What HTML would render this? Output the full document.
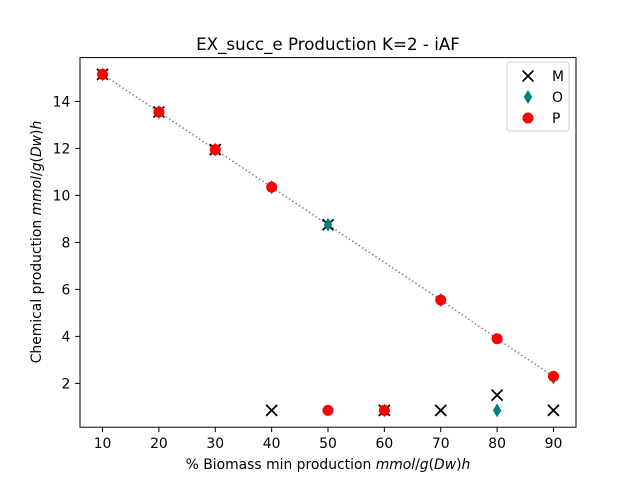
<!DOCTYPE html>
<html><head><meta charset="utf-8"><style>body{margin:0;background:#fff}svg{display:block;font-family:"DejaVu Sans","Liberation Sans",sans-serif}</style></head>
<body>
<svg id="c" width="640" height="480"></svg>
<script>
const xCats=[10,20,30,40,50,60,70,80,90];
const mVals=[15.15,13.55,11.95,0.85,8.75,0.85,0.85,1.5,0.85];
const oVals=[15.15,13.55,11.95,10.35,8.75,0.85,5.55,0.85,2.25];
const pVals=[15.15,13.55,11.95,10.35,0.85,0.85,5.55,3.9,2.3];
const lineVals=[15.15,13.55,11.95,10.35,8.75,7.15,5.55,3.9,2.3];
const xTicks=[10,20,30,40,50,60,70,80,90];
const yTicks=[2,4,6,8,10,12,14];
const L=80,R=576,T=57.6,B=427.2;
const x0=6,x1=94,y0=0.135,y1=15.865;
const sx=v=>L+(v-x0)/(x1-x0)*(R-L);
const sy=v=>B-(v-y0)/(y1-y0)*(B-T);
const svg=document.getElementById('c');const NS='http://www.w3.org/2000/svg';
function mk(tag,a,parent){const e=document.createElementNS(NS,tag);for(const k in a)e.setAttribute(k,a[k]);(parent||svg).appendChild(e);return e;}
let t=mk('text',{x:328,y:50,'text-anchor':'middle','font-size':16.7});t.textContent='EX_succ_e Production K=2 - iAF';

let pts=lineVals.map((v,i)=>sx(xCats[i])+','+sy(v)).join(' ');
let ln=mk('polyline',{points:pts,fill:'none',stroke:'#808080','stroke-width':1.5,'stroke-dasharray':'1.5,2.5'});

function cross(cx,cy,g){mk('path',{d:`M${cx-5.5},${cy-5.5}L${cx+5.5},${cy+5.5}M${cx-5.5},${cy+5.5}L${cx+5.5},${cy-5.5}`,stroke:'#000','stroke-width':1.8},g);}
function diamond(cx,cy,g){mk('path',{d:`M${cx},${cy-7}L${cx+4.2},${cy}L${cx},${cy+7}L${cx-4.2},${cy}Z`,fill:'#008080'},g);}
function dot(cx,cy,g){mk('circle',{cx:cx,cy:cy,r:5.5,fill:'#ff0000'},g);}
const gm=mk('g',{});
mVals.forEach((v,i)=>cross(sx(xCats[i]),sy(v),gm));
const go=mk('g',{});
oVals.forEach((v,i)=>diamond(sx(xCats[i]),sy(v),go));
const gp=mk('g',{});
pVals.forEach((v,i)=>dot(sx(xCats[i]),sy(v),gp));
let fr=mk('rect',{x:L,y:T,width:R-L,height:B-T,fill:'none',stroke:'#000','stroke-width':1});

xTicks.forEach(v=>{const X=sx(v);mk('line',{x1:X,x2:X,y1:B,y2:B+4.9,stroke:'#000'});const tt=mk('text',{x:X,y:B+21,'text-anchor':'middle','font-size':13.9});tt.textContent=v;
});
yTicks.forEach(v=>{const Y=sy(v);mk('line',{x1:L-4.9,x2:L,y1:Y,y2:Y,stroke:'#000'});const tt=mk('text',{x:L-9.7,y:Y+5,'text-anchor':'end','font-size':13.9});tt.textContent=v;
});
let xl=mk('text',{x:328,y:469,'text-anchor':'middle','font-size':13.9});xl.innerHTML='% Biomass min production <tspan font-style="italic">mmol</tspan>/<tspan font-style="italic">g</tspan>(<tspan font-style="italic">Dw</tspan>)<tspan font-style="italic">h</tspan>';

let yl=mk('text',{x:0,y:0,'text-anchor':'middle','font-size':13.9,transform:'translate(41,242) rotate(-90)'});yl.innerHTML='Chemical production <tspan font-style="italic">mmol</tspan>/<tspan font-style="italic">g</tspan>(<tspan font-style="italic">Dw</tspan>)<tspan font-style="italic">h</tspan>';

const lg=mk('g',{});
mk('rect',{x:507,y:62,width:62,height:69,rx:3,fill:'#fff',stroke:'#ccc'},lg);
cross(528,76,lg);diamond(528,97,lg);dot(528,118,lg);
[['M',76],['O',97],['P',118]].forEach(([s,y])=>{const e=mk('text',{x:552,y:y+5,'font-size':13.9},lg);e.textContent=s;
});
</script>
</body></html>
